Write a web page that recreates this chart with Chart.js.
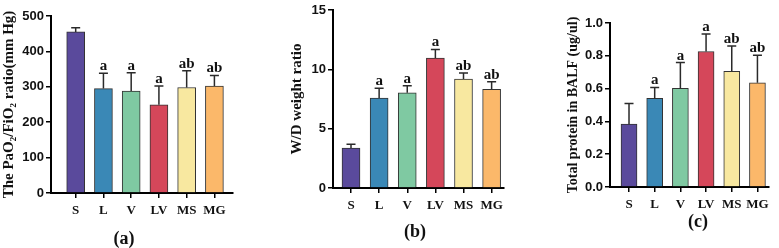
<!DOCTYPE html>
<html lang="en">
<head>
<meta charset="UTF-8">
<title>Lung injury indices by group</title>
<script src="https://cdn.jsdelivr.net/npm/chart.js"></script>
<style>
  body { margin: 0; background: #fff; width: 779px; height: 248px; position: relative; overflow: hidden; }
  canvas { position: absolute; top: 0; }
  .panel { position: absolute; font: bold 18px "Liberation Serif", serif; color: #111; transform: translate(-50%, -50%); }
</style>
</head>
<body>

<canvas id="chartA" width="245" height="248" style="left:0px"></canvas>
<canvas id="chartB" width="231" height="248" style="left:288px"></canvas>
<canvas id="chartC" width="214" height="248" style="left:565px"></canvas>

<div class="panel" style="left:124px; top:238px">(a)</div>
<div class="panel" style="left:415px; top:231px">(b)</div>
<div class="panel" style="left:698px; top:221px">(c)</div>

<script>
    // groups and significance letters
    const groups = ["S", "L", "V", "LV", "MS", "MG"];
    const sigLetters = ["", "a", "a", "a", "ab", "ab"];
    const barColors = ["#5a4a9c", "#3a88b6", "#7fc9a2", "#d5475a", "#f8e8a0", "#fbb86a"];

    // (a) PaO2/FiO2 ratio, mean and SD
    const pfRatio = [455, 295, 288, 249, 298, 302];
    const pfRatioSd = [12, 43, 52, 53, 47, 30];

    // (b) wet/dry weight ratio
    const wdRatio = [3.37, 7.58, 8.03, 10.95, 9.18, 8.32];
    const wdRatioSd = [0.31, 0.82, 0.59, 0.73, 0.51, 0.64];

    // (c) total protein in BALF
    const balfProtein = [0.383, 0.54, 0.601, 0.826, 0.706, 0.635];
    const balfProteinSd = [0.126, 0.067, 0.158, 0.107, 0.154, 0.168];

    function makeChart(id, cfg) {
        const errorBars = {
            id: "errorBars",
            afterDatasetsDraw(chart) {
                const ctx = chart.ctx;
                const y = chart.scales.y;
                chart.getDatasetMeta(0).data.forEach((bar, i) => {
                    const top = y.getPixelForValue(cfg.values[i] + cfg.errors[i]);
                    ctx.save();
                    ctx.strokeStyle = "#2a2a2a";
                    ctx.lineWidth = 1.5;
                    ctx.beginPath();
                    ctx.moveTo(bar.x, bar.y);
                    ctx.lineTo(bar.x, top);
                    ctx.moveTo(bar.x - 4.5, top);
                    ctx.lineTo(bar.x + 4.5, top);
                    ctx.stroke();
                    if (sigLetters[i]) {
                        ctx.fillStyle = "#111";
                        ctx.font = 'bold 15px "Liberation Serif"';
                        ctx.textAlign = "center";
                        ctx.textBaseline = "alphabetic";
                        ctx.fillText(sigLetters[i], bar.x, top - 3);
                    }
                    ctx.restore();
                });
            }
        };

        return new Chart(document.getElementById(id), {
            type: "bar",
            data: {
                datasets: [{
                    data: cfg.values.map((v, i) => ({ x: i, y: v })),
                    backgroundColor: barColors,
                    borderColor: "#333",
                    borderWidth: 1,
                    barThickness: cfg.barWidth
                }]
            },
            options: {
                responsive: false,
                animation: false,
                layout: { padding: { top: cfg.top, right: cfg.padRight, left: 0, bottom: 0 } },
                plugins: { legend: { display: false }, tooltip: { enabled: false } },
                scales: {
                    x: {
                        type: "linear",
                        offset: false,
                        min: cfg.xMin,
                        max: cfg.xMax,
                        afterFit: s => { s.height = 248 - cfg.bottom; },
                        // one tick per group, at the bar centres
                        afterBuildTicks: s => { s.ticks = groups.map((g, i) => ({ value: i })); },
                        border: { color: "#000", width: 2 },
                        grid: { offset: false, drawOnChartArea: false, color: "#000", lineWidth: 1.5, tickLength: 5 },
                        ticks: {
                            autoSkip: false,
                            maxRotation: 0,
                            padding: 5,
                            color: "#111",
                            font: { family: "Liberation Serif", weight: "bold", size: 13 },
                            callback: v => groups[Math.round(v)] ?? ""
                        }
                    },
                    y: {
                        min: 0,
                        max: cfg.yMax,
                        afterFit: s => { s.width = cfg.yWidth; },
                        border: { color: "#000", width: 2 },
                        grid: { drawOnChartArea: false, color: "#000", lineWidth: 1.5, tickLength: 5 },
                        ticks: {
                            stepSize: cfg.yStep,
                            padding: 2,
                            color: "#111",
                            font: { family: "Liberation Sans", weight: "bold", size: 13 },
                            callback: v => v.toFixed(cfg.decimals)
                        },
                        title: {
                            display: true,
                            text: cfg.yTitle,
                            padding: 0,
                            color: "#111",
                            font: { family: "Liberation Serif", weight: "bold", size: cfg.titleSize }
                        }
                    }
                }
            },
            plugins: [errorBars]
        });
    }

    makeChart("chartA", {
        values: pfRatio, errors: pfRatioSd,
        yMax: 500, yStep: 100, decimals: 0,
        yTitle: "The PaO\u2082/FiO\u2082 ratio(mm Hg)", titleSize: 15,
        xMin: -0.89, xMax: 5.67, barWidth: 18,
        yWidth: 51, top: 16, bottom: 193, padRight: 12
    });

    makeChart("chartB", {
        values: wdRatio, errors: wdRatioSd,
        yMax: 15, yStep: 5, decimals: 0,
        yTitle: "W/D weight ratio", titleSize: 15,
        xMin: -0.64, xMax: 5.44, barWidth: 18,
        yWidth: 45, top: 10, bottom: 188, padRight: 15
    });

    makeChart("chartC", {
        values: balfProtein, errors: balfProteinSd,
        yMax: 1.0, yStep: 0.2, decimals: 1,
        yTitle: "Total protein in BALF (ug/ul)", titleSize: 14,
        xMin: -0.74, xMax: 5.45, barWidth: 16,
        yWidth: 45, top: 23, bottom: 187, padRight: 10
    });
</script>

</body>
</html>
